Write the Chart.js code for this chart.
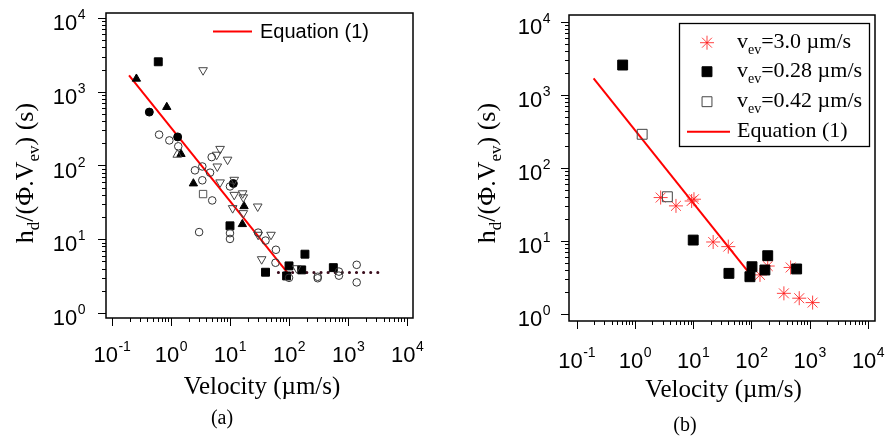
<!DOCTYPE html>
<html>
<head>
<meta charset="utf-8">
<script src="https://cdn.jsdelivr.net/npm/chart.js@4.4.1/dist/chart.umd.min.js"></script>
<style>
  html, body { margin: 0; padding: 0; background: #fff; }
  #wrap { position: relative; width: 885px; height: 445px; }
  canvas { position: absolute; top: 0; }
  #chartA { left: 0; }
  #chartB { left: 442px; }
</style>
</head>
<body>
<div id="wrap">
  <canvas id="chartA" width="442" height="445"></canvas>
  <canvas id="chartB" width="443" height="445"></canvas>
</div>
<script>
// ---- data: [velocity (um/s), hd/(phi.Vev) (s)] ----
// panel (a)
const aFilledTriangle = [[0.26, 1500], [0.85, 620], [1.48, 143], [2.4, 57], [17.3, 28], [16.2, 16]];
const aFilledCircle = [[0.43, 530], [1.3, 244], [11.4, 57]];
const aFilledSquare = [[0.61, 2550], [10, 15.2], [40, 3.57], [100, 4.35], [91, 3.18], [164, 3.84], [186, 6.27], [563, 4.12]];
const aOpenCircle = [[0.63, 262], [0.94, 219], [1.33, 182], [4.9, 130], [3.4, 97], [2.55, 86], [4.6, 80],
  [3.4, 63], [5.0, 33.6], [3.0, 12.5], [10, 52], [10, 12.1], [10, 10.1], [30, 12.3], [40, 9.6], [60, 7.2],
  [59, 4.8], [100, 3.0], [306, 3.1], [306, 2.96], [700, 3.64], [700, 3.21], [1400, 4.5], [1400, 2.6]];
const aOpenDownTriangle = [[3.5, 1960], [5.95, 140], [6.8, 168], [6.1, 97], [9.1, 120], [6.8, 59], [11.8, 64],
  [11.8, 40], [16.4, 42], [16.8, 37], [11.1, 26.4], [16.8, 22.6], [29.5, 27.8], [30, 11.5], [49.5, 11.5],
  [34.4, 5.36], [135, 4.05]];
const aOpenUpTriangle = [[1.28, 140]];
const aOpenSquare = [[3.5, 41]];
const aPlateau = [[66, 3.55], [3250, 3.55]];

// panel (b)
const bStar30 = [[2.76, 39], [5.06, 30], [9.4, 35], [10.3, 37], [22, 9.6], [40, 8.3], [140, 3.4], [190, 4.5],
  [470, 4.3], [360, 1.9], [660, 1.63], [1120, 1.42]];
const bSquare028 = [[0.615, 2550], [10, 10.2], [41, 3.57], [102, 4.4], [94, 3.21], [170, 3.97], [190, 6.23], [596, 4.1]];
const bSquare042 = [[1.33, 287], [3.6, 40]];

// Equation (1), same in both panels
const equationLine = [[0.195, 1670], [100, 3.3]];

// tick labels (powers of ten)
const xTickExp = [-1, 0, 1, 2, 3, 4];
const yTickExp = [0, 1, 2, 3, 4];

const SANS = '"Liberation Sans", Arial, Helvetica, sans-serif';
const SERIF = '"Liberation Serif", "Times New Roman", Times, serif';

function pts(list) {
  return list.map(p => ({ x: p[0], y: p[1] }));
}

function markers(list, style, r, fill, stroke, extra) {
  return Object.assign({
    type: 'scatter', data: pts(list), showLine: false,
    pointStyle: style, pointRadius: r, pointHoverRadius: r,
    backgroundColor: fill, borderColor: stroke, pointBorderWidth: 1, borderWidth: 1
  }, extra || {});
}

function lineSet(list, color, width, dash) {
  return {
    type: 'scatter', data: pts(list), showLine: true, pointRadius: 0, pointHoverRadius: 0,
    borderColor: color, borderWidth: width, borderDash: dash || [],
    borderCapStyle: dash ? 'round' : 'butt', fill: false
  };
}

function logScales(xr, yr, yWidth, xHeight) {
  const hidden = { grid: { display: false }, border: { display: false }, ticks: { display: false } };
  return {
    x: Object.assign({ type: 'logarithmic', position: 'bottom', min: Math.pow(10, xr[0]), max: Math.pow(10, xr[1]),
      afterFit: s => { s.height = xHeight; } }, hidden),
    y: Object.assign({ type: 'logarithmic', position: 'left', min: Math.pow(10, yr[0]), max: Math.pow(10, yr[1]),
      afterFit: s => { s.width = yWidth; } }, hidden)
  };
}

// text with subscripts: runs = [[text, isSub], ...]
function runsWidth(ctx, runs, big, small) {
  let w = 0;
  runs.forEach(r => { ctx.font = r[1] ? small : big; w += ctx.measureText(r[0]).width; });
  return w;
}
function drawRuns(ctx, runs, x, y, big, small, subDy) {
  ctx.textAlign = 'left';
  ctx.textBaseline = 'alphabetic';
  runs.forEach(r => {
    ctx.font = r[1] ? small : big;
    ctx.fillText(r[0], x, r[1] ? y + subDy : y);
    x += ctx.measureText(r[0]).width;
  });
}

function powLabel(ctx, e, x, y, align) {
  ctx.textAlign = 'left';
  ctx.textBaseline = 'alphabetic';
  ctx.font = '22px ' + SANS;
  const w1 = ctx.measureText('10').width;
  ctx.font = '14px ' + SANS;
  const w2 = ctx.measureText(String(e)).width;
  const x0 = align === 'center' ? x - (w1 + w2) / 2 : x - (w1 + w2);
  ctx.font = '22px ' + SANS;
  ctx.fillText('10', x0, y);
  ctx.font = '14px ' + SANS;
  ctx.fillText(String(e), x0 + w1 + 0.5, y - 11);
}

const yTitleRuns = [['h', 0], ['d', 1], ['/(\u03A6.V', 0], ['ev', 1], [') (s)', 0]];

function decor(cfg) {
  return {
    id: 'decor',
    afterDraw(chart) {
      const ctx = chart.ctx, a = chart.chartArea, xs = chart.scales.x, ys = chart.scales.y;
      ctx.save();
      ctx.fillStyle = '#000';
      ctx.strokeStyle = '#000';

      // tick marks
      ctx.lineWidth = 1;
      ctx.beginPath();
      xTickExp.forEach((e, i) => {
        for (let m = 1; m <= 9; m++) {
          if (m > 1 && i === xTickExp.length - 1) break;
          const px = Math.round(xs.getPixelForValue(m * Math.pow(10, e))) + 0.5;
          ctx.moveTo(px, a.bottom);
          ctx.lineTo(px, a.bottom + (m === 1 ? 8 : 4));
        }
      });
      yTickExp.forEach((e, i) => {
        for (let m = 1; m <= 9; m++) {
          if (m > 1 && i === yTickExp.length - 1) break;
          const py = Math.round(ys.getPixelForValue(m * Math.pow(10, e))) + 0.5;
          ctx.moveTo(a.left, py);
          ctx.lineTo(a.left - (m === 1 ? 8 : 4), py);
        }
      });
      ctx.stroke();

      // frame
      ctx.lineWidth = 1.5;
      ctx.strokeRect(a.left, a.top, a.right - a.left, a.bottom - a.top);

      // tick labels
      xTickExp.forEach(e => powLabel(ctx, e, xs.getPixelForValue(Math.pow(10, e)), a.bottom + cfg.xLabelDy, 'center'));
      yTickExp.forEach(e => powLabel(ctx, e, a.left - cfg.yLabelGap, ys.getPixelForValue(Math.pow(10, e)) + 12, 'right'));

      // axis titles
      ctx.font = '25px ' + SERIF;
      ctx.textAlign = 'center';
      ctx.textBaseline = 'alphabetic';
      ctx.fillText('Velocity (\u00B5m/s)', cfg.xTitle[0], cfg.xTitle[1]);

      ctx.save();
      ctx.translate(cfg.yTitle[0], cfg.yTitle[1]);
      ctx.rotate(-Math.PI / 2);
      const big = '26px ' + SERIF, small = '17px ' + SERIF;
      const tw = runsWidth(ctx, yTitleRuns, big, small);
      drawRuns(ctx, yTitleRuns, -tw / 2, 0, big, small, 6);
      ctx.restore();

      // panel label
      ctx.font = '20px ' + SERIF;
      ctx.textAlign = 'center';
      ctx.fillText(cfg.panel, cfg.panelPos[0], cfg.panelPos[1]);

      cfg.legend(ctx);
      ctx.restore();
    }
  };
}

function drawMarker(ctx, style, r, fill, stroke, x, y, rotation) {
  ctx.save();
  ctx.fillStyle = fill;
  ctx.strokeStyle = stroke;
  ctx.lineWidth = 1;
  Chart.helpers.drawPoint(ctx, { pointStyle: style, radius: r, rotation: rotation || 0, borderWidth: 1 }, x, y);
  ctx.restore();
}

const RED = '#ff0000';
const STAR = 'rgba(255, 20, 20, 0.8)';
const OPEN = 'rgba(0,0,0,0)';

// ---- panel (a) ----
new Chart(document.getElementById('chartA'), {
  type: 'scatter',
  data: {
    datasets: [
      markers(aOpenCircle, 'circle', 3.8, OPEN, '#333'),
      markers(aOpenDownTriangle, 'triangle', 5, OPEN, '#444', { pointRotation: 180 }),
      markers(aOpenUpTriangle, 'triangle', 5, OPEN, '#444'),
      markers(aOpenSquare, 'rect', 5.2, OPEN, '#555'),
      markers(aFilledTriangle, 'triangle', 4.8, '#000', '#000'),
      markers(aFilledCircle, 'circle', 4, '#000', '#000'),
      markers(aFilledSquare, 'rect', 5.6, '#000', '#000'),
      lineSet(aPlateau, '#3a0c1c', 3, [0.1, 7]),
      lineSet(equationLine, RED, 2)
    ]
  },
  options: {
    responsive: false,
    animation: false,
    events: [],
    layout: { padding: { left: 0, top: 13, right: 29, bottom: 0 } },
    plugins: { legend: { display: false }, tooltip: { enabled: false } },
    scales: logScales([-1.1, 4.1], [-0.068, 4.068], 106, 127)
  },
  plugins: [decor({
    xLabelDy: 44, yLabelGap: 21,
    xTitle: [262, 394], yTitle: [33, 173],
    panel: '(a)', panelPos: [222, 424],
    legend: ctx => {
      ctx.strokeStyle = RED;
      ctx.lineWidth = 2;
      ctx.beginPath();
      ctx.moveTo(213, 31.5);
      ctx.lineTo(252, 31.5);
      ctx.stroke();
      ctx.fillStyle = '#000';
      ctx.font = '20px ' + SANS;
      ctx.textAlign = 'left';
      ctx.fillText('Equation (1)', 260, 38);
    }
  })]
});

// ---- panel (b) ----
const legendB = [
  { runs: [['v', 0], ['ev', 1], ['=3.0 \u00B5m/s', 0]], mark: ['star', 7, STAR, STAR], y: 42.7, base: 48 },
  { runs: [['v', 0], ['ev', 1], ['=0.28 \u00B5m/s', 0]], mark: ['rect', 7, '#000', '#000'], y: 71.7, base: 77 },
  { runs: [['v', 0], ['ev', 1], ['=0.42 \u00B5m/s', 0]], mark: ['rect', 7, '#fff', '#444'], y: 101.7, base: 107 },
  { runs: [['Equation (1)', 0]], mark: null, y: 131.7, base: 137 }
];

new Chart(document.getElementById('chartB'), {
  type: 'scatter',
  data: {
    datasets: [
      markers(bSquare042, 'rect', 7, OPEN, '#444'),
      markers(bSquare028, 'rect', 7, '#000', '#000'),
      markers(bStar30, 'star', 7, STAR, STAR),
      lineSet(equationLine, RED, 2)
    ]
  },
  options: {
    responsive: false,
    animation: false,
    events: [],
    layout: { padding: { left: 0, top: 15, right: 10, bottom: 0 } },
    plugins: { legend: { display: false }, tooltip: { enabled: false } },
    scales: logScales([-1.132, 4.12], [-0.1, 4.092], 127, 124)
  },
  plugins: [decor({
    xLabelDy: 47, yLabelGap: 19,
    xTitle: [281.5, 397], yTitle: [53, 173],
    panel: '(b)', panelPos: [243, 431],
    legend: ctx => {
      ctx.fillStyle = '#fff';
      ctx.fillRect(237, 23, 190, 123);
      ctx.strokeStyle = '#000';
      ctx.lineWidth = 1.3;
      ctx.strokeRect(237.5, 23.5, 190, 123);
      legendB.forEach(item => {
        if (item.mark) {
          drawMarker(ctx, item.mark[0], item.mark[1], item.mark[2], item.mark[3], 265, item.y);
        } else {
          ctx.strokeStyle = RED;
          ctx.lineWidth = 2;
          ctx.beginPath();
          ctx.moveTo(245, item.y);
          ctx.lineTo(288, item.y);
          ctx.stroke();
        }
        ctx.fillStyle = '#000';
        drawRuns(ctx, item.runs, 295, item.base, '22px ' + SERIF, '14px ' + SERIF, 6);
      });
    }
  })]
});
</script>
</body>
</html>
